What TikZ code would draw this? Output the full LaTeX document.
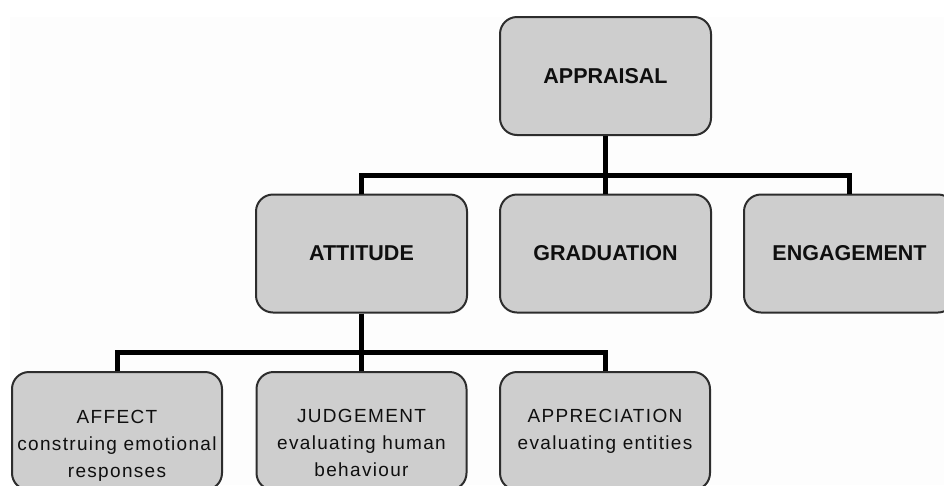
\documentclass[tikz,border=0pt]{standalone}
\usepackage{fontspec}
\setmainfont{Liberation Sans}
\newfontfamily\subfont[LetterSpace=7]{Liberation Sans}
\definecolor{boxfill}{RGB}{206,206,206}
\definecolor{boxline}{RGB}{45,45,45}
\definecolor{bgtint}{RGB}{253,253,253}
\definecolor{txt}{RGB}{15,15,15}
\tikzset{
  catbox/.style={draw=boxline, fill=boxfill, line width=2pt, rounded corners=17pt,
    minimum width=211pt, minimum height=118pt, inner sep=0pt, text=txt,
    font=\bfseries\fontsize{21.5}{25}\selectfont},
  subbox/.style={draw=boxline, fill=boxfill, line width=2pt, rounded corners=17pt,
    minimum width=210pt, minimum height=118pt, inner sep=0pt},
  subtxt/.style={anchor=north, align=center, inner sep=0pt, text=txt,
    font=\subfont\fontsize{19}{27}\selectfont},
  conn/.style={line width=5pt, draw=black, line join=miter}
}
\begin{document}
\begin{tikzpicture}[x=1pt,y=-1pt]
\useasboundingbox (0,0) rectangle (944,485);
\clip (0,0) rectangle (944,485);
\fill[bgtint] (10,17) rectangle (944,485);

\coordinate (j1) at (605.5,175);
\coordinate (j2) at (361.5,352);

\node[catbox] (appraisal) at (605.5,76) {APPRAISAL};
\node[catbox] (attitude) at (361.5,253.5) {ATTITUDE};
\node[catbox] (graduation) at (605.5,253.5) {GRADUATION};
\node[catbox] (engagement) at (849.5,253.5) {ENGAGEMENT};

\node[subbox] (affect) at (117,431) {};
\node[subbox] (judgement) at (361.5,431) {};
\node[subbox] (appreciation) at (605,431) {};

\node[subtxt] (affect-t) at ([yshift=-39pt]affect.north) {AFFECT\\construing emotional\\responses};
\node[subtxt] (judgement-t) at ([yshift=-38pt]judgement.north) {JUDGEMENT\\evaluating human\\behaviour};
\node[subtxt] (appreciation-t) at ([yshift=-38pt]appreciation.north) {APPRECIATION\\evaluating entities};

\draw[conn] (appraisal.south) -- (j1);
\draw[conn] (attitude.north) |- (j1) -| (engagement.north);
\draw[conn] (j1) -- (graduation.north);
\draw[conn] (attitude.south) -- (judgement.north);
\draw[conn] (affect.north) |- (j2) -| (appreciation.north);
\end{tikzpicture}
\end{document}
